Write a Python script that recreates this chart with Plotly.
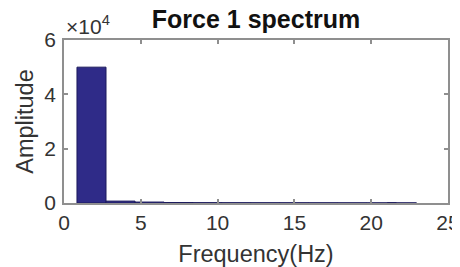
import plotly.graph_objects as go

# Data: histogram-like spectrum bins
freq_centers = [1.79, 3.68, 5.57, 7.46, 9.35, 11.24, 13.13, 15.02, 16.91, 18.80, 20.69, 22.0]
amplitudes = [50000, 700, 350, 180, 120, 100, 90, 80, 70, 60, 50, 40]
x_ticks = [0, 5, 10, 15, 20, 25]
y_tickvals = [0, 20000, 40000, 60000]
y_ticktext = ["0", "2", "4", "6"]

BAR_WIDTH = 1.89
FONT = "Liberation Sans, Arial, Helvetica, sans-serif"
TEXT = "#333333"
AXIS = "#8f8f8f"

# The page body adds an 8px offset, so the figure is 8px smaller in each direction
W, H = 452, 259

fig = go.Figure()
fig.add_trace(go.Bar(
    x=freq_centers,
    y=amplitudes,
    width=BAR_WIDTH,
    marker=dict(color="#2f2b88", line=dict(color="#1c1a5c", width=1)),
))

fig.update_layout(
    template="none",
    width=W, height=H,
    margin=dict(l=56, r=12, t=32, b=64, autoexpand=False),
    paper_bgcolor="white",
    plot_bgcolor="white",
    showlegend=False,
    title=dict(
        text="<b>Force 1 spectrum</b>",
        x=248 / W, xanchor="center", xref="container",
        y=1 - 11 / H, yanchor="middle", yref="container",
        font=dict(family=FONT, size=25, color="#111111"),
    ),
    font=dict(family=FONT, color=TEXT),
)

fig.update_xaxes(
    range=[0, 25],
    tickvals=x_ticks,
    ticks="inside", ticklen=4, tickcolor=AXIS, tickwidth=1.5,
    showline=True, linecolor=AXIS, linewidth=1.5, mirror="ticks",
    showgrid=False, zeroline=False, automargin=False,
    tickfont=dict(family=FONT, size=21, color=TEXT),
    title=dict(text="Frequency(Hz)", font=dict(family=FONT, size=23.5, color=TEXT), standoff=13),
)
fig.update_yaxes(
    range=[0, 60000],
    tickvals=y_tickvals, ticktext=y_ticktext,
    ticks="inside", ticklen=4, tickcolor=AXIS, tickwidth=1.5,
    showline=True, linecolor=AXIS, linewidth=1.5, mirror="ticks",
    showgrid=False, zeroline=False, automargin=False,
    ticklabelstandoff=2,
    tickfont=dict(family=FONT, size=21, color=TEXT),
    title=dict(text="Amplitude", font=dict(family=FONT, size=23.5, color=TEXT), standoff=4),
)

fig.add_annotation(
    xref="paper", yref="paper", x=0.0, y=1.0,
    xanchor="left", yanchor="bottom",
    text="×10<sup>4</sup>", showarrow=False,
    font=dict(family=FONT, size=21, color=TEXT),
    yshift=0,
)

fig.write_html("out.html")
